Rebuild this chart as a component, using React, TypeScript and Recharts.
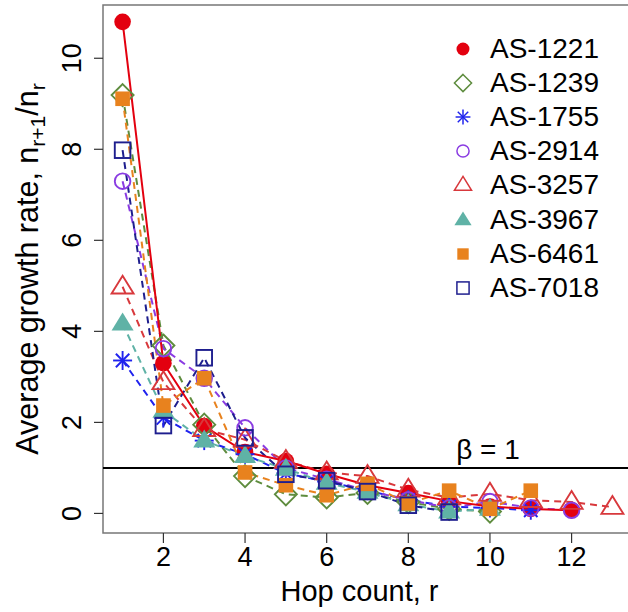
import React from 'react';
import { LineChart, Line, XAxis, YAxis, ReferenceLine, ReferenceArea } from 'recharts';

const hops = [1, 2, 3, 4, 5, 6, 7, 8, 9, 10, 11, 12, 13];
const as1221 = [10.8, 3.3, 1.92, 1.35, 1.15, 0.87, 0.62, 0.45, 0.27, 0.15, 0.1, 0.07, null];
const as1239 = [9.19, 3.69, 1.95, 0.82, 0.42, 0.35, 0.45, 0.25, 0.1, 0.04, null, null, null];
const as1755 = [3.36, 2.1, 1.6, 1.3, 0.88, 0.7, 0.5, 0.3, 0.15, 0.12, 0.07, null, null];
const as2914 = [7.3, 3.62, 2.97, 1.88, 1.0, 0.75, 0.5, 0.3, 0.12, 0.26, 0.12, 0.07, null];
const as3257 = [4.98, 2.88, 1.85, 1.62, 1.15, 0.9, 0.82, 0.52, 0.35, 0.43, 0.29, 0.25, 0.14];
const as3967 = [4.17, 2.25, 1.6, 1.26, 0.98, 0.67, 0.47, 0.2, 0.04, 0.1, null, null, null];
const as6461 = [9.11, 2.37, 2.97, 0.9, 0.62, 0.4, 0.65, 0.22, 0.5, 0.1, 0.5, null, null];
const as7018 = [7.98, 1.93, 3.42, 1.66, 0.86, 0.72, 0.48, 0.18, 0.03, null, null, null, null];

const xTicks = [2, 4, 6, 8, 10, 12];
const yTicks = [0, 2, 4, 6, 8, 10];

const FONT = '"Liberation Sans", Arial, Helvetica, sans-serif';

type Kind = 'dot' | 'diamond' | 'star' | 'circle' | 'tri' | 'triFill' | 'sqFill' | 'sq';

const series: { key: string; name: string; color: string; kind: Kind; values: (number | null)[] }[] = [
  { key: 'as1221', name: 'AS-1221', color: '#E3000F', kind: 'dot', values: as1221 },
  { key: 'as1239', name: 'AS-1239', color: '#5E8C3E', kind: 'diamond', values: as1239 },
  { key: 'as1755', name: 'AS-1755', color: '#1F22EE', kind: 'star', values: as1755 },
  { key: 'as2914', name: 'AS-2914', color: '#8A3CE2', kind: 'circle', values: as2914 },
  { key: 'as3257', name: 'AS-3257', color: '#D8383C', kind: 'tri', values: as3257 },
  { key: 'as3967', name: 'AS-3967', color: '#5FB2A6', kind: 'triFill', values: as3967 },
  { key: 'as6461', name: 'AS-6461', color: '#E8821E', kind: 'sqFill', values: as6461 },
  { key: 'as7018', name: 'AS-7018', color: '#1E1E8E', kind: 'sq', values: as7018 },
];

function Marker({ kind, cx, cy, color, s = 1 }: { kind: Kind; cx: number; cy: number; color: string; s?: number }) {
  const sw = 1.9 * s;
  switch (kind) {
    case 'dot':
      return <circle cx={cx} cy={cy} r={8.3 * s} fill={color} />;
    case 'circle':
      return <circle cx={cx} cy={cy} r={7.8 * s} fill="none" stroke={color} strokeWidth={sw} />;
    case 'diamond': {
      const d = 11 * s;
      return <polygon points={`${cx},${cy - d} ${cx + d},${cy} ${cx},${cy + d} ${cx - d},${cy}`} fill="none" stroke={color} strokeWidth={sw} />;
    }
    case 'star': {
      const a = 9.5 * s;
      const b = a * 0.707;
      return (
        <g stroke={color} strokeWidth={sw}>
          <line x1={cx - a} y1={cy} x2={cx + a} y2={cy} />
          <line x1={cx} y1={cy - a} x2={cx} y2={cy + a} />
          <line x1={cx - b} y1={cy - b} x2={cx + b} y2={cy + b} />
          <line x1={cx - b} y1={cy + b} x2={cx + b} y2={cy - b} />
        </g>
      );
    }
    case 'tri':
    case 'triFill': {
      const h = 11 * s;
      const pts = `${cx},${cy - h} ${cx + h},${cy + h * 0.62} ${cx - h},${cy + h * 0.62}`;
      return kind === 'tri' ? (
        <polygon points={pts} fill="none" stroke={color} strokeWidth={sw} />
      ) : (
        <polygon points={pts} fill={color} />
      );
    }
    case 'sqFill': {
      const h = 7.3 * s;
      return <rect x={cx - h} y={cy - h} width={2 * h} height={2 * h} fill={color} />;
    }
    case 'sq': {
      const h = 7.8 * s;
      return <rect x={cx - h} y={cy - h} width={2 * h} height={2 * h} fill="none" stroke={color} strokeWidth={sw} />;
    }
  }
  return null;
}

const makeDot = (kind: Kind, color: string) => (props: any) => {
  const { cx, cy, index, value } = props;
  if (cx == null || cy == null || value == null || Number.isNaN(cy)) return <g key={`e-${index}`} />;
  return <Marker key={`m-${index}`} kind={kind} cx={cx} cy={cy} color={color} />;
};

const XTick = (props: any) => {
  const { x, y, payload } = props;
  return (
    <text x={x} y={y} dy="0.35em" textAnchor="middle" fontFamily={FONT} fontSize={27} fill="#000">
      {payload.value}
    </text>
  );
};

const YTick = (props: any) => {
  const { x, y, payload } = props;
  return (
    <text x={x} y={y} dy="0.35em" textAnchor="middle" transform={`rotate(-90, ${x}, ${y})`} fontFamily={FONT} fontSize={27} fill="#000">
      {payload.value}
    </text>
  );
};

const XTitle = (props: any) => {
  const vb = props.viewBox;
  return (
    <text x={vb.x + vb.width / 2 - 8} y={vb.y + 68} textAnchor="middle" fontFamily={FONT} fontSize={29} fill="#000">
      Hop count, r
    </text>
  );
};

const YTitle = (props: any) => {
  const vb = props.viewBox;
  const cx = 27;
  const cy = vb.y + vb.height / 2;
  return (
    <text x={cx} y={cy} dy="0.35em" textAnchor="middle" transform={`rotate(-90, ${cx}, ${cy})`} fontFamily={FONT} fontSize={30.5} fill="#000">
      Average growth rate, n
      <tspan fontSize={21} dy={7}>r+1</tspan>
      <tspan fontSize={30.5} dy={-7}>/n</tspan>
      <tspan fontSize={21} dy={7}>r</tspan>
    </text>
  );
};

const BetaLabel = (props: any) => {
  const vb = props.viewBox;
  return (
    <text x={vb.x + vb.width - 144} y={vb.y - 9} textAnchor="middle" fontFamily={FONT} fontSize={28} fill="#000">
      β = 1
    </text>
  );
};

const LegendBox = () => (
  <div style={{ position: 'absolute', left: 451, top: 32, fontFamily: FONT, fontSize: 28, color: '#000' }}>
    {series.map((s) => (
      <div key={s.key} style={{ display: 'flex', alignItems: 'center', height: 34.1 }}>
        <svg width={24} height={24} style={{ flex: 'none' }}>
          <Marker kind={s.kind} cx={12} cy={12} color={s.color} s={0.78} />
        </svg>
        <span style={{ marginLeft: 15, lineHeight: '34px', whiteSpace: 'nowrap' }}>{s.name}</span>
      </div>
    ))}
  </div>
);

export default function App() {
  const data = hops.map((r, i) => {
    const row: any = { r };
    series.forEach((s) => {
      row[s.key] = s.values[i];
    });
    return row;
  });
  const dashed = series.filter((s) => s.key !== 'as1221');
  const red = series[0];
  return (
    <div style={{ position: 'absolute', left: 0, top: 0, width: 628, height: 612, overflow: 'hidden', background: '#fff' }}>
      <LineChart width={640} height={612} data={data} margin={{ top: 5, right: 8, bottom: 0, left: 0 }}>
        <XAxis
          type="number"
          dataKey="r"
          domain={[0.52, 13.48]}
          ticks={xTicks}
          allowDataOverflow
          axisLine={false}
          tickSize={10}
          tickMargin={14}
          tickLine={{ stroke: '#333', strokeWidth: 1.2 }}
          tick={XTick}
          height={79}
          label={XTitle}
        />
        <YAxis
          type="number"
          domain={[-0.43, 11.17]}
          ticks={yTicks}
          allowDataOverflow
          axisLine={false}
          tickSize={9}
          tickMargin={22}
          tickLine={{ stroke: '#333', strokeWidth: 1.2 }}
          tick={YTick}
          width={103}
          label={YTitle}
        />
        <ReferenceArea x1={0.52} x2={13.48} y1={-0.43} y2={11.17} fill="none" stroke="#777" strokeWidth={1.5} ifOverflow="visible" />
        <ReferenceLine y={1} stroke="#000" strokeWidth={2} label={BetaLabel} />
        <Line
          dataKey={red.key}
          stroke="none"
          isAnimationActive={false}
          dot={makeDot(red.kind, red.color)}
          activeDot={false}
        />
        {dashed.map((s) => (
          <Line
            key={s.key}
            dataKey={s.key}
            type="linear"
            stroke={s.color}
            strokeWidth={2}
            strokeDasharray="7 5"
            isAnimationActive={false}
            dot={makeDot(s.kind, s.color)}
            activeDot={false}
          />
        ))}
        <Line
          dataKey={red.key}
          type="linear"
          stroke={red.color}
          strokeWidth={2}
          isAnimationActive={false}
          dot={false}
          activeDot={false}
        />
      </LineChart>
      <LegendBox />
    </div>
  );
}
